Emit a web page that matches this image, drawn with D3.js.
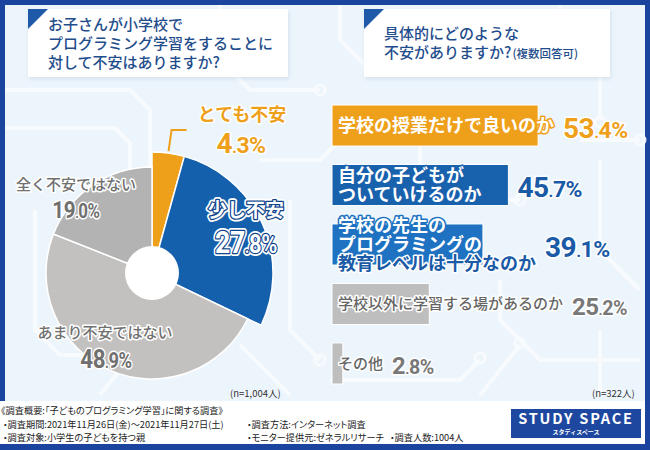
<!DOCTYPE html>
<html><head><meta charset="utf-8">
<script src="https://cdn.jsdelivr.net/npm/d3@7"></script>
<style>
html,body{margin:0;padding:0;background:#fff;}
svg{display:block;}
text{font-family:"Noto Sans CJK JP","Noto Sans",sans-serif;}
.num{font-family:Roboto,"DejaVu Sans",sans-serif;font-weight:700;}
</style></head><body>
<svg id="chart" width="650" height="450"></svg>
<script>
// ---------- data ----------
const pieCategories = ["とても不安", "少し不安", "あまり不安ではない", "全く不安ではない"];
const pieValues = [4.3, 27.8, 48.9, 19.0];
const pieN = "(n=1,004人)";
const barCategories = [
  ["学校の授業だけで良いのか"],
  ["自分の子どもが", "ついていけるのか"],
  ["学校の先生の", "プログラミングの", "教育レベルは十分なのか"],
  ["学校以外に学習する場があるのか"],
  ["その他"]
];
const barValues = [53.4, 45.7, 39.1, 25.2, 2.8];
const barN = "(n=322人)";
const leftTitle = ["お子さんが小学校で", "プログラミング学習をすることに", "対して不安はありますか?"];
const rightTitle = ["具体的にどのような", "不安がありますか?"];
const rightTitleNote = "(複数回答可)";
const footerCol1 = ["《調査概要:「子どものプログラミング学習」に関する調査》", "・調査期間:2021年11月26日(金)～2021年11月27日(土)", "・調査対象:小学生の子どもを持つ親"];
const footerCol2 = ["・調査方法:インターネット調査", "・モニター提供元:ゼネラルリサーチ"];
const footerCol3 = ["・調査人数:1004人"];

// ---------- styles ----------
const FRAME = "#1b449f", BG = "#edf5fc";
const ORANGE = "#eea01b", PIEBLUE = "#1460ad", BAR2 = "#1861ad", BAR3 = "#1e72c1";
const GRAYL = "#c3c1bf", GRAYD = "#b3b3b3", BARGRAY = "#bebebe";
const GRAYTXT = "#707070", BLUETXT = "#1a5aa6", TITLE = "#1f4d8c";

const svg = d3.select("#chart");
const defs = svg.append("defs");
const sh = defs.append("filter").attr("id","sh").attr("x","-10%").attr("y","-10%").attr("width","120%").attr("height","130%");
sh.append("feDropShadow").attr("dx",1).attr("dy",2).attr("stdDeviation",2).attr("flood-color","#5a7fae").attr("flood-opacity",0.18);

// frame & background
svg.append("rect").attr("width",650).attr("height",450).attr("fill",FRAME);
svg.append("rect").attr("x",5).attr("y",5).attr("width",640).attr("height",396).attr("fill",BG);

// decorative circuit lines
const deco = svg.append("g").attr("fill","none").attr("stroke","#f9fcff").attr("stroke-width",4).attr("opacity",0.9);
const decoPaths = [
  "M5,90 H130 L150,110 V170", "M5,128 H115 L130,143 V200", "M35,210 V330 L60,355 H120",
  "M220,5 V60 L250,90 H320", "M260,160 H320 L340,140 H420", "M290,200 V330 L320,360",
  "M340,5 V40 L370,70", "M420,110 V170 L450,200 H520", "M500,280 V320 L540,360 H640",
  "M560,5 V30 L600,70 V120", "M580,140 H640", "M600,160 V250 L640,290",
  "M240,345 L290,395", "M330,380 H460 L480,360", "M100,395 L140,345 H200",
  "M480,395 L520,345", "M600,330 V395"
];
deco.selectAll("path").data(decoPaths).join("path").attr("d", d => d);
const decoDots = [[150,172],[130,202],[122,355],[320,90],[420,140],[370,70],[520,200],[600,122],[640,140],[320,360],[480,358],[520,343]];
deco.selectAll("circle").data(decoDots).join("circle").attr("cx",d=>d[0]).attr("cy",d=>d[1]).attr("r",5).attr("stroke-width",3);

// footer
svg.append("rect").attr("x",0).attr("y",401).attr("width",645).attr("height",43).attr("fill","#fff");

// ---------- title boxes ----------
function titleBox(x, y, w, h) {
  svg.append("rect").attr("x",x).attr("y",y).attr("width",w).attr("height",h).attr("fill","#fff").attr("filter","url(#sh)");
  svg.append("path").attr("d",`M${x},${y} h20 L${x},${y+20} Z`).attr("fill","#1f5aa8");
}
titleBox(28, 9, 260, 68);
titleBox(364, 9, 246, 68);
svg.append("g").selectAll("text").data(leftTitle).join("text")
  .attr("x",48).attr("y",(d,i)=>30+i*19).attr("font-size",15).attr("font-weight",500).attr("fill",TITLE).text(d=>d);
const rt = svg.append("g").selectAll("text").data(rightTitle).join("text")
  .attr("x",384).attr("y",(d,i)=>39+i*19).attr("font-size",15).attr("font-weight",500).attr("fill",TITLE).text(d=>d);
rt.filter((d,i)=>i===1).append("tspan").attr("font-size",11.5).attr("dx",1).text(rightTitleNote);

// ---------- helpers ----------
function numText(g, x, y, str, size, fill, anchor, halo, haloW, sx) {
  const parts = str.replace("%","").split(".");
  const t = g.append("text").attr("class","num")
    .attr("transform",`translate(${x},${y}) scale(${sx||0.86},1)`)
    .attr("text-anchor",anchor).attr("fill",fill)
    .attr("stroke",halo).attr("stroke-width",haloW).attr("stroke-linejoin","round").attr("paint-order","stroke")
    .attr("letter-spacing",-0.5);
  t.append("tspan").attr("font-size",size).text(parts[0]);
  t.append("tspan").attr("font-size",size*0.6).text(".");
  t.append("tspan").attr("font-size",size*0.82).text(parts[1] + "%");
  return t;
}
function haloText(g, x, y, str, size, fill, halo, haloW, weight, anchor) {
  return g.append("text").attr("x",x).attr("y",y).attr("font-size",size).attr("font-weight",weight||700)
    .attr("text-anchor",anchor||"start").attr("fill",fill)
    .attr("stroke",halo).attr("stroke-width",haloW).attr("stroke-linejoin","round").attr("paint-order","stroke")
    .text(str);
}

// ---------- pie ----------
const cx = 152, cy = 273;
const pieColors = [ORANGE, PIEBLUE, GRAYL, GRAYD];
const outerR = d3.scaleOrdinal().domain(pieCategories).range([121, 121, 106, 106]);
const pie = d3.pie().sort(null).value(d => d.v);
const arcs = pie(pieCategories.map((c,i)=>({c, v: pieValues[i]})));
const arc = d3.arc().innerRadius(0).outerRadius(d => outerR(d.data.c));
const pg = svg.append("g").attr("transform",`translate(${cx},${cy})`);
pg.selectAll("path").data(arcs).join("path")
  .attr("d", arc).attr("fill",(d,i)=>pieColors[i]).attr("stroke","#fff").attr("stroke-width",1.5);
pg.append("circle").attr("r",27).attr("fill","#fff");

// leader line from orange slice
const a0 = arcs[0], mid = (a0.startAngle + a0.endAngle)/2, r0 = outerR(a0.data.c) + 2;
const lx = Math.sin(mid)*r0, ly = -Math.cos(mid)*r0;
pg.append("path").attr("d",`M${lx},${ly} L${lx+3},${ly-21} H${lx+18}`)
  .attr("fill","none").attr("stroke",ORANGE).attr("stroke-width",2);

const pl = svg.append("g");
const pieFmt = v => v.toFixed(1) + "%";
// とても不安
haloText(pl, 242, 121, pieCategories[0], 18, ORANGE, "#fff", 3, 700, "middle");
numText(pl, 241, 153, pieFmt(pieValues[0]), 28, ORANGE, "middle", "#fff", 3, 1.0);
// 少し不安 (white text with dark outline + white halo)
haloText(pl, 246, 217, pieCategories[1], 19, "#fff", "#fff", 6, 700, "middle");
haloText(pl, 246, 217, pieCategories[1], 19, "#fff", "#0f438b", 2.5, 700, "middle");
numText(pl, 246, 253, pieFmt(pieValues[1]), 31, "#fff", "middle", "#fff", 6);
numText(pl, 246, 253, pieFmt(pieValues[1]), 31, "#fff", "middle", "#0f438b", 2.5);
// あまり不安ではない
haloText(pl, 105, 338, pieCategories[2], 15, GRAYTXT, "#fff", 3, 500, "middle");
numText(pl, 106, 368, pieFmt(pieValues[2]), 26, GRAYTXT, "middle", "#fff", 3);
// 全く不安ではない
haloText(pl, 76, 190, pieCategories[3], 15, GRAYTXT, "#fff", 3, 500, "middle");
numText(pl, 76, 218, pieFmt(pieValues[3]), 24, GRAYTXT, "middle", "#fff", 3);

svg.append("text").attr("x",230).attr("y",397).attr("font-size",9.5).attr("fill","#333").text(pieN);

// ---------- bars ----------
const x = d3.scaleLinear().domain([0, 100]).range([332, 718]);
const y = d3.scaleBand().domain(d3.range(barValues.length)).range([105, 384]).paddingInner(0.31).paddingOuter(0);
const barFill = [ORANGE, BAR2, BAR3, BARGRAY, BARGRAY];
const valFill = [ORANGE, BLUETXT, BLUETXT, "#787878", "#787878"];
const bg = svg.append("g");
bg.selectAll("rect").data(barValues).join("rect")
  .attr("x", x(0)).attr("y",(d,i)=>y(i)).attr("width", d => x(d)-x(0)).attr("height", y.bandwidth())
  .attr("fill",(d,i)=>barFill[i]).attr("stroke","#fff").attr("stroke-width",1);

barValues.forEach((v, i) => {
  const lines = barCategories[i];
  const big = i < 3;
  const size = big ? 18 : 15;
  const cyb = y(i) + y.bandwidth()/2;
  const lh = 19;
  const g = bg.append("g");
  let maxW = 0;
  lines.forEach((ln, j) => {
    const by = cyb + (j - (lines.length-1)/2)*lh + size*0.36;
    let t;
    if (!big) {
      t = haloText(g, 338, by, ln, size, "#666", "#fff", 3, 500);
    } else if (i === 2 && j === 2) {
      t = haloText(g, 338, by, ln, size, BLUETXT, "#fff", 3, 700);
    } else {
      t = haloText(g, 338, by, ln, size, "#fff", barFill[i], 3, 700);
    }
    maxW = Math.max(maxW, t.node().getComputedTextLength());
  });
  const vx = Math.max(x(v), 338 + maxW) + 9;
  const vsize = big ? 28 : 24;
  numText(bg, vx, cyb + vsize*0.44, v.toFixed(1)+"%", vsize, valFill[i], "start", "#fff", 3, 1.0);
});
svg.append("text").attr("x",592).attr("y",397).attr("font-size",9.5).attr("fill","#333").text(barN);

// ---------- footer ----------
const ft = svg.append("g").attr("font-size",9.2).attr("fill","#222").style("font-feature-settings","'palt'");
ft.selectAll("text.c1").data(footerCol1).join("text").attr("class","c1").attr("x",(d,i)=>i===0?1:3).attr("y",(d,i)=>414+i*13.5).text(d=>d);
ft.selectAll("text.c2").data(footerCol2).join("text").attr("class","c2").attr("x",247).attr("y",(d,i)=>427.5+i*13.5).text(d=>d);
ft.selectAll("text.c3").data(footerCol3).join("text").attr("class","c3").attr("x",390).attr("y",441).text(d=>d);

// logo
svg.append("rect").attr("x",511).attr("y",409).attr("width",130).attr("height",29).attr("fill","#1e48a0");
svg.append("text").attr("x",576).attr("y",424).attr("text-anchor","middle").attr("font-family","'DejaVu Sans'")
  .attr("font-weight",700).attr("font-size",14.5).attr("letter-spacing",1.8).attr("fill","#fff").text("STUDY SPACE");
svg.append("text").attr("x",576).attr("y",434).attr("text-anchor","middle")
  .attr("font-weight",700).attr("font-size",6).attr("fill","#fff").text("スタディスペース");
</script>
</body></html>
